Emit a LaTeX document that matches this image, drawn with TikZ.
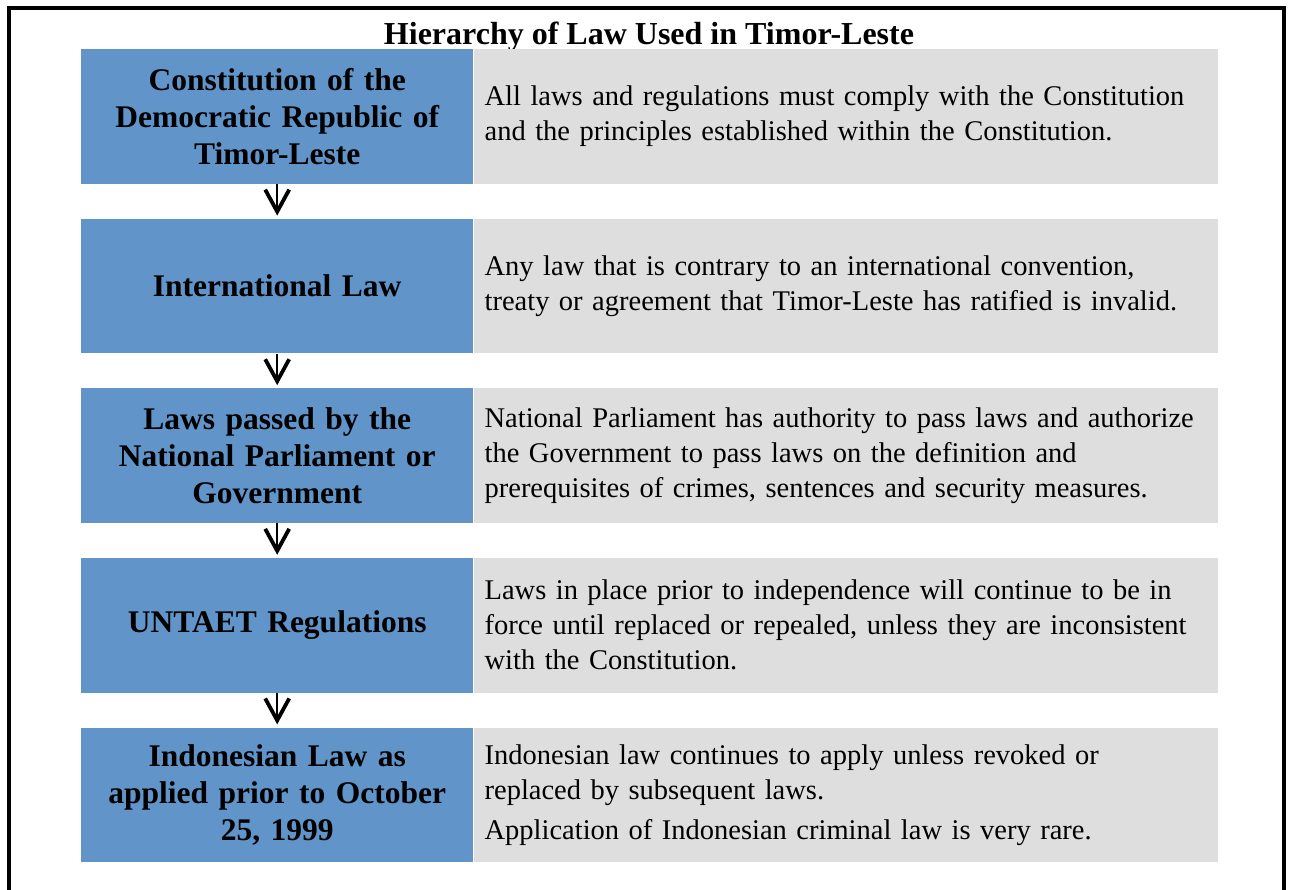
\documentclass[tikz,border=0pt]{standalone}
\usepackage{fontspec}
\setmainfont{Liberation Serif}
\usetikzlibrary{positioning, arrows.meta}

\definecolor{lawblue}{RGB}{97,149,201}
\definecolor{lawgray}{RGB}{222,222,222}

\begin{document}
\begin{tikzpicture}[x=1pt, y=-1pt, level/.style={rectangle,
            fill=lawblue, text width=372pt, inner xsep=10pt, inner
            ysep=0pt, minimum height=134.5pt, align=center,
            font=\fontsize{31.5}{36.7}\selectfont\bfseries},
        note/.style={rectangle, fill=lawgray, text width=722pt, inner
            xsep=11pt, inner ysep=0pt, minimum height=134.5pt,
            align=left, font=\fontsize{28.5}{35}\selectfont},
        down/.style={-{Straight Barb[length=22pt, width=24pt, line
            width=3.8pt]}, line width=1.6pt, shorten >=3pt}, ]

        \useasboundingbox (0,0) rectangle (1289,890);
        \draw[line width=4pt] (9,890) |- (1284,8) -- (1284,890);

        \node[anchor=base, font=\fontsize{32}{38}\selectfont\bfseries]
        (title) at (649,44.5) {Hierarchy of Law Used in Timor-Leste};

        \node[level, anchor=north west] (constitution) at (81,49)
        {Constitution of the\\Democratic Republic of\\Timor-Leste};
        \node[note] (constitutionnote) [right=0pt of constitution]
        {All laws and regulations must comply with the Constitution\\
            and the principles established within the Constitution.};

        \node[level] (international) [below=34.7pt of constitution]
        {International Law};
        \node[note] (internationalnote) [right=0pt of international]
        {Any law that is contrary to an international convention,\\
            treaty or agreement that Timor-Leste has ratified is invalid.};

        \node[level] (parliament) [below=34.7pt of international]
        {Laws passed by the\\National Parliament or\\Government};
        \node[note] (parliamentnote) [right=0pt of parliament]
        {National Parliament has authority to pass laws and authorize\\
            the Government to pass laws on the definition and\\
            prerequisites of crimes, sentences and security measures.};

        \node[level] (untaet) [below=34.7pt of parliament]
        {UNTAET Regulations};
        \node[note] (untaetnote) [right=0pt of untaet]
        {Laws in place prior to independence will continue to be in\\
            force until replaced or repealed, unless they are inconsistent\\
            with the Constitution.};

        \node[level] (indonesian) [below=34.7pt of untaet]
        {Indonesian Law as\\applied prior to October\\25, 1999};
        \node[note] (indonesiannote) [right=0pt of indonesian]
        {Indonesian law continues to apply unless revoked or\\
            replaced by subsequent laws.\\[5pt]
            Application of Indonesian criminal law is very rare.};

        % arrows down the hierarchy
        \draw[down] (constitution.south) -- (international.north);
        \draw[down] (international.south) -- (parliament.north);
        \draw[down] (parliament.south) -- (untaet.north);
        \draw[down] (untaet.south) -- (indonesian.north);
    \end{tikzpicture}
\end{document}
